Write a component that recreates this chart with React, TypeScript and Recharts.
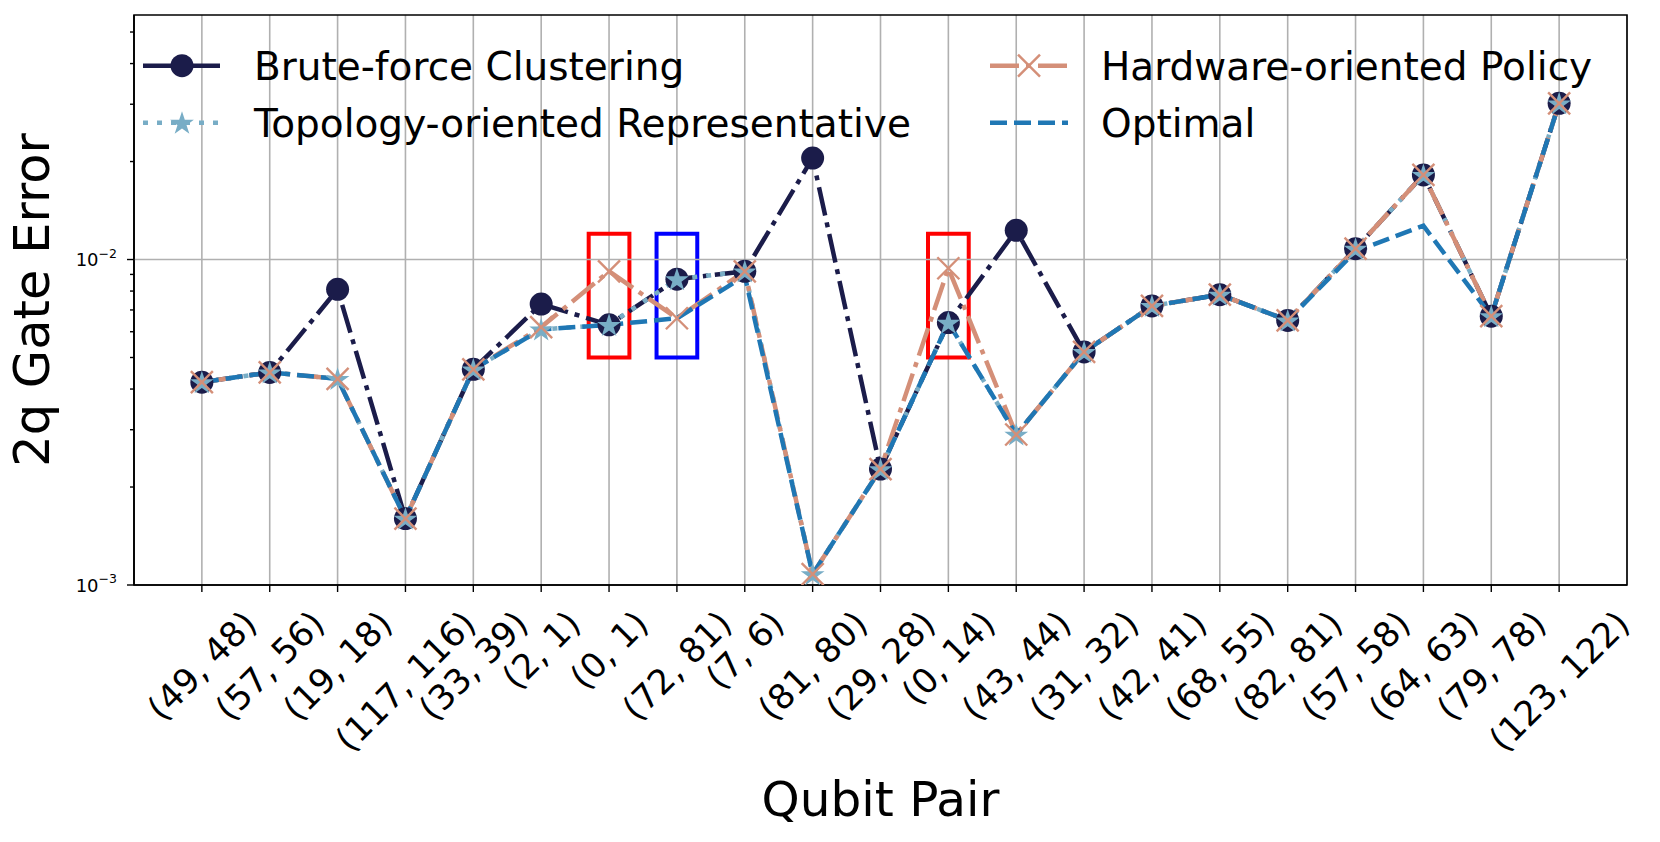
import React from 'react';
import {
  LineChart,
  Line,
  XAxis,
  YAxis,
  CartesianGrid,
  ReferenceLine,
  ReferenceArea,
  Customized,
} from 'recharts';

// qubit pairs on the x axis
const categories = [
  '(49, 48)', '(57, 56)', '(19, 18)', '(117, 116)', '(33, 39)', '(2, 1)', '(0, 1)',
  '(72, 81)', '(7, 6)', '(81, 80)', '(29, 28)', '(0, 14)', '(43, 44)', '(31, 32)',
  '(42, 41)', '(68, 55)', '(82, 81)', '(57, 58)', '(64, 63)', '(79, 78)', '(123, 122)',
];

// 2q gate error per pair
const bruteForce = [
  0.0042, 0.0045, 0.0081, 0.0016, 0.0046, 0.0073, 0.0063, 0.0087, 0.0092, 0.0205, 0.00227,
  0.0064, 0.0123, 0.0052, 0.0072, 0.0078, 0.0065, 0.0108, 0.0182, 0.0067, 0.0302,
];
const hardwarePolicy = [
  0.0042, 0.0045, 0.0043, 0.0016, 0.0046, 0.0062, 0.0092, 0.0066, 0.0092, 0.00108, 0.00227,
  0.0094, 0.0029, 0.0052, 0.0072, 0.0078, 0.0065, 0.0108, 0.0182, 0.0067, 0.0302,
];
const topologyRep = [
  0.0042, 0.0045, 0.0043, 0.0016, 0.0046, 0.0061, 0.0063, 0.0087, 0.0092, 0.00108, 0.00227,
  0.0064, 0.0029, 0.0052, 0.0072, 0.0078, 0.0065, 0.0108, 0.0182, 0.0067, 0.0302,
];
const optimal = [
  0.0042, 0.0045, 0.0043, 0.0016, 0.0046, 0.0061, 0.0063, 0.0066, 0.0089, 0.00108, 0.00227,
  0.0064, 0.0029, 0.0052, 0.0072, 0.0078, 0.0065, 0.0106, 0.0127, 0.0067, 0.0302,
];

const yTicks = [
  0.001, 0.002, 0.003, 0.004, 0.005, 0.006, 0.007, 0.008, 0.009,
  0.01, 0.02, 0.03, 0.04, 0.05,
];
const xTicks = categories.map((_, i) => i);

// highlighted pairs (index) and the error band the boxes cover
const redBoxes = [6, 11];
const blueBoxes = [7];
const boxLow = 0.005;
const boxHigh = 0.012;

const NAVY = '#1b1c4a';
const SALMON = '#d48f78';
const LIGHTBLUE = '#78adc6';
const BLUE = '#1f77b4';
const GRID = '#b0b0b0';
const FONT = '"DejaVu Sans", sans-serif';

const DASHDOT = '29 7 5 7';
const DASHED = '17 7';
const DOTTED = '5 9';
const LW = 4.5;

const data = categories.map((c, i) => ({
  x: i,
  bf: bruteForce[i],
  hw: hardwarePolicy[i],
  topo: topologyRep[i],
  opt: optimal[i],
}));

let measureCtx: CanvasRenderingContext2D | null = null;
function textWidth(s: string, font: string) {
  if (!measureCtx && typeof document !== 'undefined') {
    measureCtx = document.createElement('canvas').getContext('2d');
  }
  if (!measureCtx) return s.length * 18;
  measureCtx.font = font;
  return measureCtx.measureText(s).width;
}

function starPath(cx: number, cy: number, R: number) {
  const r = R * 0.382;
  let d = '';
  for (let i = 0; i < 10; i++) {
    const rad = i % 2 === 0 ? R : r;
    const a = -Math.PI / 2 + (i * Math.PI) / 5;
    d += (i ? 'L' : 'M') + (cx + rad * Math.cos(a)).toFixed(2) + ',' + (cy + rad * Math.sin(a)).toFixed(2);
  }
  return d + 'Z';
}

function Marker({ kind, cx, cy }: { kind: string; cx: number; cy: number }) {
  if (kind === 'circle') return <circle cx={cx} cy={cy} r={11.5} fill={NAVY} />;
  if (kind === 'star') return <path d={starPath(cx, cy + 1, 12.5)} fill={LIGHTBLUE} />;
  if (kind === 'x') {
    const s = 11;
    return (
      <g stroke={SALMON} strokeWidth={2.4}>
        <line x1={cx - s} y1={cy - s} x2={cx + s} y2={cy + s} />
        <line x1={cx - s} y1={cy + s} x2={cx + s} y2={cy - s} />
      </g>
    );
  }
  return null;
}

const dotOf = (kind: string) => (p: any) =>
  p.cx == null ? <g key={p.index} /> : <g key={p.index}><Marker kind={kind} cx={p.cx} cy={p.cy} /></g>;

function XTick(props: any) {
  const { x, y, payload } = props;
  const label = categories[payload.value];
  if (label == null) return null;
  const fs = 34.5;
  const L = textWidth(label, `${fs}px "DejaVu Sans"`);
  const h = fs * 1.17;
  const cy = y + 11 + (L + h) / (2 * Math.SQRT2);
  return (
    <text
      x={x}
      y={cy}
      textAnchor="middle"
      dominantBaseline="central"
      transform={`rotate(-45, ${x}, ${cy})`}
      fontFamily={FONT}
      fontSize={fs}
      fill="#000"
    >
      {label}
    </text>
  );
}

function YTick(props: any) {
  const { x, y, payload } = props;
  const exp = Math.log10(payload.value);
  const major = Math.abs(exp - Math.round(exp)) < 1e-6;
  return (
    <g>
      <line x1={x - (major ? 7 : 4)} y1={y} x2={x} y2={y} stroke="#000" strokeWidth={1.4} />
      {major && (
        <text x={x - 17} y={y + 6.5} textAnchor="end" fontFamily={FONT} fill="#000">
          <tspan fontSize={18}>10</tspan>
          <tspan fontSize={12.5} dy={-8.5}>{'\u2212' + Math.abs(Math.round(exp))}</tspan>
        </text>
      )}
    </g>
  );
}

function XTitle(props: any) {
  const vb = props.viewBox;
  return (
    <text x={vb.x + vb.width / 2} y={vb.y + 231} textAnchor="middle" fontFamily={FONT} fontSize={48.5} fill="#000">
      Qubit Pair
    </text>
  );
}

function YTitle(props: any) {
  const vb = props.viewBox;
  const x = vb.x + 49;
  const y = vb.y + vb.height / 2;
  return (
    <text x={x} y={y} textAnchor="middle" transform={`rotate(-90, ${x}, ${y})`} fontFamily={FONT} fontSize={49.5} fill="#000">
      2q Gate Error
    </text>
  );
}

const legendItems = [
  { label: 'Brute-force Clustering', color: NAVY, dash: DASHDOT, marker: 'circle', col: 0, row: 0 },
  { label: 'Topology-oriented Representative', color: LIGHTBLUE, dash: DOTTED, marker: 'star', col: 0, row: 1 },
  { label: 'Hardware-oriented Policy', color: SALMON, dash: DASHDOT, marker: 'x', col: 1, row: 0 },
  { label: 'Optimal', color: BLUE, dash: DASHED, marker: '', col: 1, row: 1 },
];

function LegendBlock() {
  const colX = [143, 990];
  const rowY = [65.7, 122.7];
  return (
    <g>
      {legendItems.map((it) => {
        const x0 = colX[it.col];
        const y = rowY[it.row];
        return (
          <g key={it.label}>
            <line x1={x0} y1={y} x2={x0 + 78} y2={y} stroke={it.color} strokeWidth={LW} strokeDasharray={it.dash} />
            <Marker kind={it.marker} cx={x0 + 39} cy={y} />
            <text x={x0 + 111} y={y + 14.5} fontFamily={FONT} fontSize={39} fill="#000">
              {it.label}
            </text>
          </g>
        );
      })}
    </g>
  );
}

export default function App() {
  return (
    <div style={{ position: 'absolute', left: 0, top: 0, background: '#fff' }}>
      <LineChart width={1660} height={842} data={data} margin={{ top: 15, right: 33, bottom: 0, left: 0 }}>
        <CartesianGrid horizontal={false} stroke={GRID} strokeWidth={1.6} />
        <ReferenceLine y={0.01} stroke={GRID} strokeWidth={1.6} />
        <XAxis
          dataKey="x"
          type="number"
          domain={[-1, 21]}
          allowDataOverflow
          ticks={xTicks}
          interval={0}
          height={257}
          tickSize={7}
          tickMargin={0}
          tickLine={{ stroke: '#000', strokeWidth: 1.4 }}
          axisLine={{ stroke: '#000', strokeWidth: 1.6 }}
          tick={<XTick />}
          label={<XTitle />}
        />
        <YAxis
          scale="log"
          domain={[0.001, 0.0564]}
          allowDataOverflow
          ticks={yTicks}
          interval={0}
          width={134}
          tickSize={0}
          tickMargin={0}
          tickLine={false}
          axisLine={{ stroke: '#000', strokeWidth: 1.6 }}
          tick={<YTick />}
          label={<YTitle />}
        />
        <Line dataKey="bf" stroke={NAVY} strokeWidth={LW} strokeDasharray={DASHDOT} dot={dotOf('circle')} activeDot={false} isAnimationActive={false} />
        <Line dataKey="topo" stroke={LIGHTBLUE} strokeWidth={LW} strokeDasharray={DOTTED} dot={dotOf('star')} activeDot={false} isAnimationActive={false} />
        <Line dataKey="hw" stroke={SALMON} strokeWidth={LW} strokeDasharray={DASHDOT} dot={dotOf('x')} activeDot={false} isAnimationActive={false} />
        <Line dataKey="opt" stroke={BLUE} strokeWidth={LW} strokeDasharray={DASHED} dot={false} activeDot={false} isAnimationActive={false} />
        {redBoxes.map((i) => (
          <ReferenceArea key={'r' + i} x1={i - 0.3} x2={i + 0.3} y1={boxLow} y2={boxHigh} fill="none" stroke="#ff0000" strokeWidth={4} ifOverflow="visible" />
        ))}
        {blueBoxes.map((i) => (
          <ReferenceArea key={'b' + i} x1={i - 0.3} x2={i + 0.3} y1={boxLow} y2={boxHigh} fill="none" stroke="#0000ff" strokeWidth={4} ifOverflow="visible" />
        ))}
        <ReferenceArea x1={-1} x2={21} y1={0.001} y2={0.0564} fill="none" stroke="#000" strokeWidth={1.6} ifOverflow="visible" />
        <Customized component={<LegendBlock />} />
      </LineChart>
    </div>
  );
}
